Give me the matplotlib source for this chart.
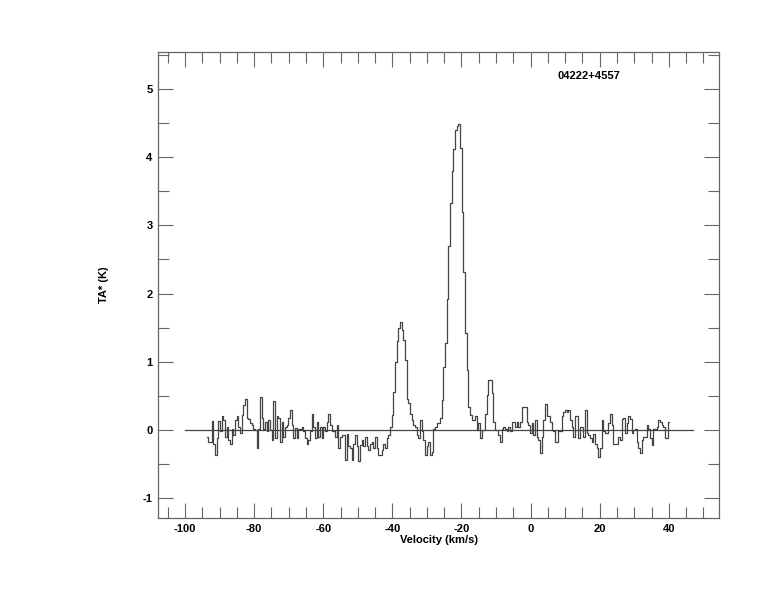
import numpy as np
import matplotlib
matplotlib.use('Agg')
import matplotlib.pyplot as plt
from matplotlib.ticker import MultipleLocator

# Спектр 04222+4557: антенная температура по каналам (шаг ~0.48 км/с)
v_start = -93.48
dv = 0.482

ta_a = [-0.10, -0.17, -0.17, 0.13, -0.20, -0.36, -0.12, 0.13, -0.01, 0.21,
        0.15, -0.10, 0.05, -0.15, -0.21, 0.01, -0.08, 0.15, 0.21, 0.05,
        -0.05, 0.22, 0.37, 0.45, 0.17, 0.16, 0.10, 0.07, 0.02, 0.00,
        -0.26, 0.02, 0.49, 0.17, 0.02, 0.11, -0.02, 0.15, 0.00, -0.15,
        0.42, -0.12, 0.20, 0.17, -0.17, 0.12, -0.10, 0.05, 0.07, 0.18,
        0.29, 0.07, -0.12, 0.03, -0.12, 0.02]
ta_b = [0.01, 0.05, -0.02, -0.12, -0.20, -0.15, -0.02, 0.23, 0.05, -0.12,
        0.11, -0.10, 0.05, -0.12, 0.05, -0.01, 0.12, 0.23, 0.08, -0.01,
        -0.02, -0.10, 0.07, -0.27, -0.10, -0.07, -0.07, -0.44, -0.06, -0.24,
        -0.27, -0.44, -0.20, -0.07, -0.24, -0.46, -0.22, -0.15, -0.24, -0.10,
        -0.24, -0.29, -0.20, -0.17, -0.27, -0.10, -0.27, -0.36, -0.37, -0.29,
        -0.21, -0.27, -0.12, -0.07, 0.05, 0.22, 0.56]
ta_c = [1.00, 1.30, 1.49, 1.59, 1.47, 1.32, 1.03, 0.46, 0.39, 0.24,
        0.15, 0.07, 0.05, -0.07, -0.12, 0.15, -0.02, -0.15, -0.37, -0.24,
        -0.17, -0.37, -0.32, 0.02, 0.05, 0.10, 0.10, 0.17, 0.44, 0.93,
        1.27, 1.92, 2.70, 3.33, 3.80, 4.12, 4.39, 4.46, 4.49, 4.13,
        3.20, 2.32, 1.42, 0.88, 0.34, 0.22, 0.15, 0.15, 0.20, 0.00,
        0.10]
ta_d = [-0.12, 0.00, 0.00, 0.24, 0.51, 0.73, 0.73, 0.54, 0.12, 0.00,
        0.00, -0.07, -0.17, 0.02, 0.04, 0.02, -0.02, 0.05, -0.02, 0.11,
        0.11, 0.05, 0.11, 0.05, 0.11, 0.33, 0.33, 0.33, 0.12, 0.07,
        -0.05, 0.10, -0.07, 0.15, -0.10, -0.15, -0.34, -0.10, 0.15, 0.38,
        0.20, 0.20, 0.12, 0.00, -0.02, -0.17, -0.17, -0.02, -0.02, 0.20,
        0.27, 0.29, 0.27, 0.30, 0.15, 0.05, -0.10, 0.20, 0.20, -0.12]
ta_e = [0.05, 0.05, -0.10, 0.30, -0.05, -0.07, -0.12, -0.17, -0.06, -0.20,
        -0.27, -0.39, -0.27, 0.15, -0.02, -0.04, -0.04, 0.10, 0.23, 0.07,
        -0.20, -0.20, -0.20, -0.10, -0.14, 0.16, 0.17, -0.05, 0.10, 0.20,
        0.16, -0.05, 0.00, 0.02, -0.17, -0.27, -0.34, -0.15, -0.10, -0.10,
        0.07, 0.02, -0.12, -0.22, 0.02, 0.02, 0.05, 0.14, 0.12, 0.07,
        0.05, -0.12, -0.12, 0.12]

ta = np.array(ta_a + ta_b + ta_c + ta_d + ta_e)
vel = v_start + dv * np.arange(len(ta))

source = '04222+4557'
base_range = [-100, 47]

plt.rcParams['font.family'] = ['Liberation Sans', 'DejaVu Sans']
plt.rcParams['font.weight'] = 'bold'
plt.rcParams['axes.unicode_minus'] = False

fig = plt.figure(figsize=(7.74, 6.12), dpi=100)
ax = fig.add_axes([0.2041, 0.1536, 0.7249, 0.7614])

ax.step(vel, ta, where='mid', color='#444444', lw=0.9)
ax.plot(base_range, [0, 0], color='#444444', lw=0.9)

ax.set_xlim(-107.8, 54.5)
ax.set_ylim(-1.29, 5.54)

ax.xaxis.set_major_locator(MultipleLocator(20))
ax.xaxis.set_minor_locator(MultipleLocator(5))
ax.yaxis.set_major_locator(MultipleLocator(1))
ax.yaxis.set_minor_locator(MultipleLocator(0.5))
ax.tick_params(which='both', direction='in', top=True, right=True,
               color='#666666', labelsize=8, pad=4)
ax.tick_params(which='major', length=11, width=0.8)
ax.tick_params(which='minor', length=8, width=0.8)
for s in ax.spines.values():
    s.set_color('#666666')
    s.set_linewidth(0.9)
for lab in ax.get_xticklabels() + ax.get_yticklabels():
    lab.set_fontweight('bold')

ax.set_xlabel('Velocity (km/s)', fontsize=8, fontweight='bold', labelpad=1)
ax.set_ylabel('TA* (K)', fontsize=8, fontweight='bold', labelpad=24)
ax.text(7.9, 5.19, source, fontsize=8, fontweight='bold', va='center')

fig.savefig('out.png', dpi=100)
